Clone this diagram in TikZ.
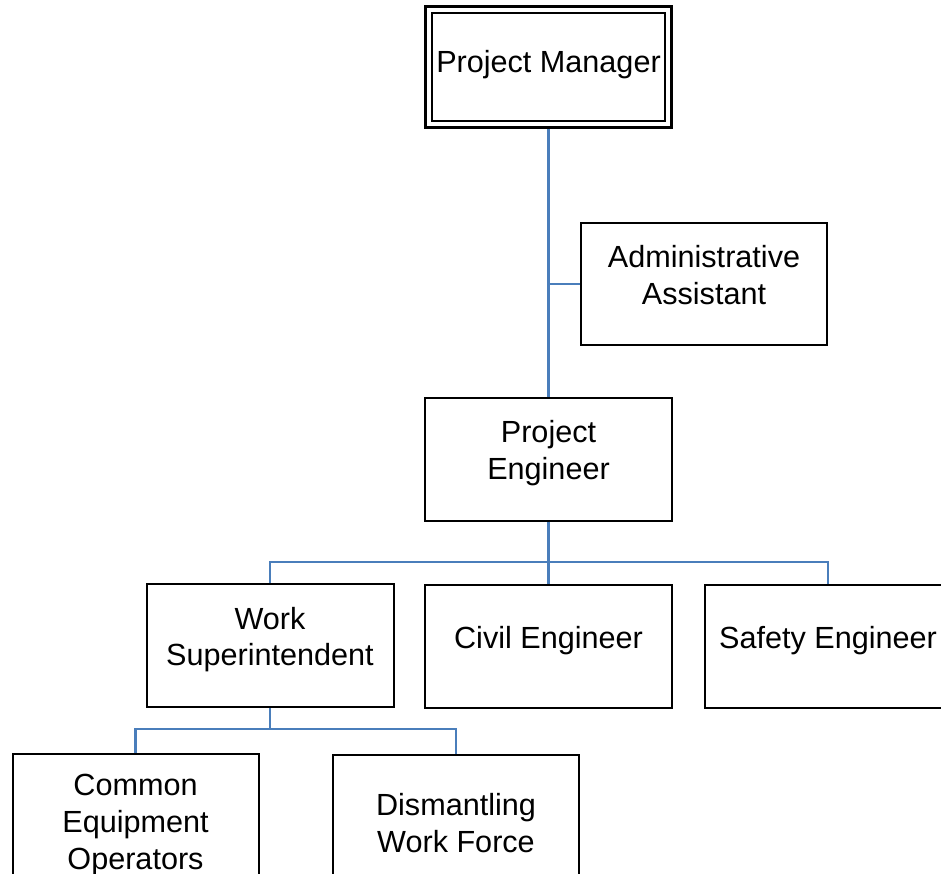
\documentclass[tikz,border=0pt]{standalone}
\usepackage{fontspec}
\setmainfont{Liberation Sans}
\definecolor{linkblue}{RGB}{74,126,187}
\newcommand\boxstrut{\rule[-18pt]{0pt}{18pt}}
\newcommand\topstrut{\rule[-10.5pt]{0pt}{10.5pt}}
\begin{document}
\begin{tikzpicture}[x=1pt,y=-1pt,
  boxbase/.style={draw=black, line width=2pt, minimum width=247pt, minimum height=123pt,
    inner sep=0pt, align=center, font=\fontsize{30.6}{36.8}\selectfont},
  orgbox/.style={boxbase, execute at end node=\boxstrut},
  topbox/.style={boxbase, line width=2.7pt, double, double distance=4pt,
    minimum width=239.6pt, minimum height=114.6pt, outer sep=4.7pt,
    execute at end node=\topstrut},
  tallbox/.style={orgbox, minimum width=246pt, minimum height=154pt},
  link/.style={draw=linkblue, line width=2.2pt}]
\useasboundingbox (0,0) rectangle (941,874);
\clip (0,0) rectangle (941,874);

\node[topbox] (PM) at (548.5,67) {Project Manager};
\node[orgbox, minimum width=246pt, minimum height=122pt] (Admin) at (704,284) {Administrative\\Assistant};
\node[orgbox] (PE) at (548.5,459) {Project\\Engineer};
\node[orgbox] (WS) at (270,645.5) {Work\\Superintendent};
\node[orgbox] (Civil) at (548.5,646) {Civil Engineer};
\node[orgbox] (Safety) at (828,646) {Safety Engineer};
\node[tallbox] (Common) at (135.5,831) {Common\\Equipment\\Operators};
\node[tallbox] (Dism) at (456,832) {Dismantling\\Work Force};

\coordinate (bus1) at (548.5,562);
\coordinate (bus2) at (270,729);

\draw[link] (PM.south) -- (PE.north);
\draw[link] (Admin.west) -- (Admin.west -| PM.south);
\draw[link] (PE.south) -- (PE.south |- bus1);
\draw[link] (WS.north) |- (bus1) -| (Safety.north);
\draw[link] (Civil.north) -- (Civil.north |- bus1);
\draw[link] (WS.south) -- (WS.south |- bus2);
\draw[link] (Common.north) |- (bus2) -| (Dism.north);
\end{tikzpicture}
\end{document}
